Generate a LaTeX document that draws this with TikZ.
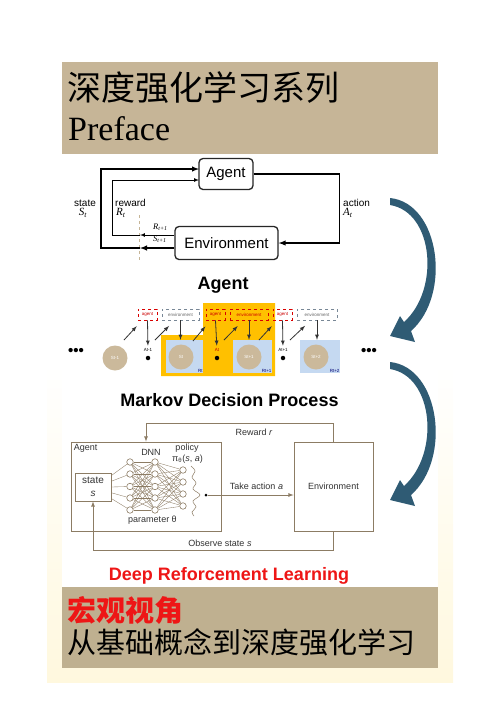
\documentclass[tikz,border=0pt]{standalone}
\usepackage{fontspec}
\setmainfont{Liberation Serif}
\setsansfont{Liberation Sans}
\newfontfamily\cjk{Noto Sans CJK SC}
\usetikzlibrary{calc}

\definecolor{tanbox}{RGB}{198,181,151}
\definecolor{tanboxdark}{RGB}{191,176,144}
\definecolor{cream}{RGB}{255,248,222}
\definecolor{gold}{RGB}{255,192,0}
\definecolor{skyfill}{RGB}{197,217,241}
\definecolor{pebble}{RGB}{203,185,155}
\definecolor{drlred}{RGB}{238,22,22}
\definecolor{mdpline}{RGB}{140,124,100}
\definecolor{arrowblue}{RGB}{47,91,116}
\definecolor{dashgray}{RGB}{120,135,150}

\tikzset{
  loopbox/.style={draw=black!85, line width=1.3pt, rounded corners=4pt, inner sep=0pt,
    font=\sffamily\fontsize{15}{18}\selectfont},
  loopthick/.style={line width=1.4pt, -latex},
  loopthin/.style={line width=0.7pt, -latex},
  looplab/.style={inner sep=0pt, font=\sffamily\fontsize{10}{12}\selectfont},
  loopmath/.style={inner sep=0pt, font=\fontsize{11}{13}\selectfont\itshape},
  loopsmall/.style={inner sep=0pt, font=\fontsize{8.5}{10}\selectfont\itshape},
  sectitle/.style={inner sep=0pt, font=\sffamily\bfseries\fontsize{18}{22}\selectfont},
  pebblecirc/.style={circle, fill=pebble, minimum size=25pt, inner sep=0pt, text=white,
    font=\sffamily\fontsize{4.5}{5}\selectfont},
  skybox/.style={fill=skyfill, minimum height=33pt, inner sep=0pt},
  tinylab/.style={inner sep=0.5pt, font=\sffamily\fontsize{4.5}{5}\selectfont},
  agentdash/.style={draw=red!85!black, dashed, line width=0.6pt, minimum height=11pt, inner sep=0pt,
    text=red!80!black, font=\sffamily\fontsize{4.5}{5}\selectfont},
  envdash/.style={draw=dashgray, dashed, line width=0.6pt, minimum height=11pt, inner sep=0pt,
    text=black!60, font=\sffamily\fontsize{4.5}{5}\selectfont},
  actdot/.style={circle, fill=black, minimum size=4.5pt, inner sep=0pt},
  striparr/.style={line width=0.8pt, black!80, -latex},
  mdpbox/.style={draw=mdpline, line width=0.8pt, inner sep=0pt, text=black!80,
    font=\sffamily\fontsize{9}{11}\selectfont},
  mdptext/.style={inner sep=0pt, text=black!80, font=\sffamily\fontsize{9}{11}\selectfont},
  mdparr/.style={draw=mdpline, line width=0.8pt, -latex},
  neuron/.style={circle, draw=mdpline, fill=white, line width=0.6pt, minimum size=6.5pt, inner sep=0pt},
  wire/.style={draw=mdpline, line width=0.35pt}
}

\begin{document}
\begin{tikzpicture}[x=1pt,y=1pt,yscale=-1]
\useasboundingbox (0,0) rectangle (500,716);
%Shape: Background
\shade[top color=white, bottom color=cream, middle color=white] (47,48) rectangle (453,682);
\fill[white] (62,154) rectangle (438,587);
%Shape: Rectangle
\fill[tanbox] (62,62) rectangle (438,154);
%Shape: Rectangle
\fill[tanboxdark] (62,587) rectangle (438,668);
% Text Node
\node[anchor=west, inner sep=0pt, font=\cjk\fontsize{34}{40}\selectfont] (title) at (67,88) {深度强化学习系列};
% Text Node
\node[anchor=base west, inner sep=0pt, font=\fontsize{34}{40}\selectfont] (preface) at (68,140) {Preface};
% Text Node
\node[anchor=west, inner sep=0pt, text=drlred, font=\cjk\bfseries\fontsize{29}{34}\selectfont] (macro) at (67,610) {宏观视角};
% Text Node
\node[anchor=west, inner sep=0pt, font=\cjk\fontsize{29}{34}\selectfont] (subtitle) at (67,642) {从基础概念到深度强化学习};

%Agent--environment loop
\node[loopbox, minimum width=54pt, minimum height=31pt] (agent) at (226,174) {Agent};
\node[loopbox, minimum width=103pt, minimum height=33pt] (env) at (226.5,243) {Environment};
\coordinate (cutR) at (140,235);
\coordinate (cutS) at (140,248);
\coordinate (inR) at (199,180);
\coordinate (inS) at (199,169);
%Straight Lines
\draw[tanbox, dashed, line width=0.6pt] (139,215) -- (139,261);
\draw[loopthin] (env.west |- cutR) -- (cutR);
\draw[loopthin] (cutR) -- ++(-28,0) |- (inR);
\draw[loopthick] (env.west |- cutS) -- (cutS);
\draw[loopthick] (cutS) -- ++(-39,0) |- (inS);
\draw[loopthick] (agent.east) -- ++(86,0) |- (env.east);
% Text Node
\node[looplab] (stateLab) at (85,203) {state};
\node[loopmath] (stLab) at (83,213) {S\textsubscript{t}};
\node[looplab, anchor=west] (rewardLab) at (115,203) {reward};
\node[loopmath, anchor=west] (rtLab) at (116,213) {R\textsubscript{t}};
\node[looplab, anchor=west] (actionLab) at (343,203) {action};
\node[loopmath, anchor=west] (atLab) at (343,213) {A\textsubscript{t}};
\node[loopsmall, anchor=west] (rnextLab) at (153,227) {R\textsubscript{t+1}};
\node[loopsmall, anchor=west] (snextLab) at (153,239) {S\textsubscript{t+1}};

%Agent strip
\node[sectitle] (stripTitle) at (223,285) {Agent};
\fill[gold] (161,335) -- (203,335) -- (203,303) -- (275,303) -- (275,376) -- (161,376) -- cycle;
\node[skybox, minimum width=37pt] (box1) at (184.5,356.5) {};
\node[skybox, minimum width=39pt] (box2) at (252.5,356.5) {};
\node[skybox, minimum width=40pt] (box3) at (320,356.5) {};
\node[pebblecirc] (st0) at (115,358) {St-1};
\node[pebblecirc] (st1) at (181,357) {St};
\node[pebblecirc] (st2) at (249,357) {St+1};
\node[pebblecirc] (st3) at (316,357) {St+2};
\node[tinylab, anchor=south east, text=blue!45!black] (rw1) at (box1.south east) {Rt};
\node[tinylab, anchor=south east, text=blue!45!black] (rw2) at (box2.south east) {Rt+1};
\node[tinylab, anchor=south east, text=blue!45!black] (rw3) at (box3.south east) {Rt+2};
\node[actdot] (act0) at (148,358) {};
\node[actdot] (act1) at (217,358) {};
\node[actdot] (act2) at (283,358) {};
\node[tinylab] (actLab0) at (148,350) {At-1};
\node[tinylab, text=red!75!black] (actLab1) at (217,350) {At};
\node[tinylab] (actLab2) at (283,350) {At+1};
\node[agentdash, minimum width=19pt] (ag1) at (147.5,314.5) {agent};
\node[envdash, minimum width=37pt] (en1) at (180.5,314.5) {environment};
\node[agentdash, minimum width=19pt] (ag2) at (215.5,314.5) {agent};
\node[agentdash, minimum width=38pt] (en2) at (249,314.5) {environment};
\node[agentdash, minimum width=19pt] (ag3) at (282.5,314.5) {agent};
\node[envdash, minimum width=40pt] (en3) at (317,314.5) {environment};
\node[inner sep=0pt, font=\sffamily\bfseries\fontsize{15}{16}\selectfont] (dotsL) at (76,352) {•••};
\node[inner sep=0pt, font=\sffamily\bfseries\fontsize{15}{16}\selectfont] (dotsR) at (369,352) {•••};
\coordinate (d1) at (124,340);
\coordinate (d2) at (155,340);
\coordinate (d3) at (193,341);
\coordinate (d4) at (224,340);
\coordinate (d5) at (259,340);
\coordinate (d6) at (290,340);
%Straight Lines
\draw[striparr, shorten >=8pt] (d1) -- (ag1);
\draw[striparr, shorten >=8pt] (d2) -- (en1);
\draw[striparr, shorten >=8pt] (d3) -- (ag2);
\draw[striparr, shorten >=8pt] (d4) -- (en2);
\draw[striparr, shorten >=8pt] (d5) -- (ag3);
\draw[striparr, shorten >=8pt] (d6) -- (en3);
\draw[striparr, shorten >=2pt] (ag1.south) -- (actLab0);
\draw[striparr, shorten >=2pt] (ag2.south) -- (actLab1);
\draw[striparr, shorten >=2pt] (ag3.south) -- (actLab2);
\draw[striparr] (en1.south) -- (en1.south |- box1.north);
\draw[striparr] (en2.south) -- (en2.south |- box2.north);
\draw[striparr] (en3.south) -- (en3.south |- box3.north);

%Markov decision process
\node[sectitle] (mdpTitle) at (229.5,400) {Markov Decision Process};
\node[mdpbox, minimum width=150pt, minimum height=89pt] (agbox) at (146,486.5) {};
\node[mdptext, anchor=north west, inner sep=3pt] (agboxLab) at (agbox.north west) {Agent};
\node[mdpbox, minimum width=79pt, minimum height=89pt] (envbox) at (333.5,486.5) {Environment};
\node[mdpbox, minimum width=36pt, minimum height=28pt, align=center,
  font=\sffamily\fontsize{10}{12}\selectfont] (stbox) at (93,487) {state\\[1pt]\textit{s}};
\foreach \i/\y in {1/462,2/474,3/486.5,4/498,5/510}{
  \node[neuron] (na-\i) at (130,\y) {};
  \node[neuron] (nb-\i) at (155,\y) {};
}
\foreach \i/\y in {1/470,2/482,3/494,4/506}
  \node[neuron] (nc-\i) at (183,\y) {};
\foreach \i/\f in {1/0.1,2/0.3,3/0.5,4/0.7,5/0.9}
  \draw[wire] ($(stbox.north east)!\f!(stbox.south east)$) -- (na-\i);
\foreach \i in {1,...,5}{
  \foreach \j in {1,...,5}
    \draw[wire] (na-\i) -- (nb-\j);
  \foreach \j in {1,...,4}
    \draw[wire] (nb-\i) -- (nc-\j);
}
\draw[mdpline, line width=0.5pt] plot[smooth, tension=0.6] coordinates {(191,466) (195,471) (192,477) (196,483) (193,489) (200,495) (193,501) (196,507) (192,512) (194,516)};
\node[actdot, minimum size=3pt] (pdot) at (206,495) {};
\draw[mdparr] (pdot) -- (envbox.west |- pdot);
\draw[mdparr] (envbox.north) -- ++(0,-18) -| (agbox.north);
\draw[mdparr] (envbox.south) -- ++(0,19) -| (stbox.south);
% Text Node
\node[mdptext] (dnnLab) at (151,452) {DNN};
\node[mdptext] (policyLab) at (187,448) {policy};
\node[mdptext] (piLab) at (187.5,459) {π\textsubscript{θ}(\textit{s}, \textit{a})};
\node[mdptext] (paramLab) at (152.5,520) {parameter θ};
\node[mdptext] (rewardR) at (254,432) {Reward \textit{r}};
\node[mdptext] (takeLab) at (256.5,486) {Take action \textit{a}};
\node[mdptext] (observeLab) at (220,543) {Observe state \textit{s}};
\node[sectitle, text=drlred] (drlTitle) at (229,576) {Deep Reforcement Learning};

%Curved Arrows
\fill[arrowblue] (390,198) .. controls (440,203) and (452,295) .. (411,331) -- (415,342) -- (390,336) -- (400,316) -- (404,322) .. controls (440,290) and (434,212) .. (390,205) -- cycle;
\fill[arrowblue] (390,362) .. controls (440,367) and (452,459) .. (411,495) -- (415,506) -- (390,500) -- (400,480) -- (404,486) .. controls (440,454) and (434,376) .. (390,369) -- cycle;
\end{tikzpicture}
\end{document}
